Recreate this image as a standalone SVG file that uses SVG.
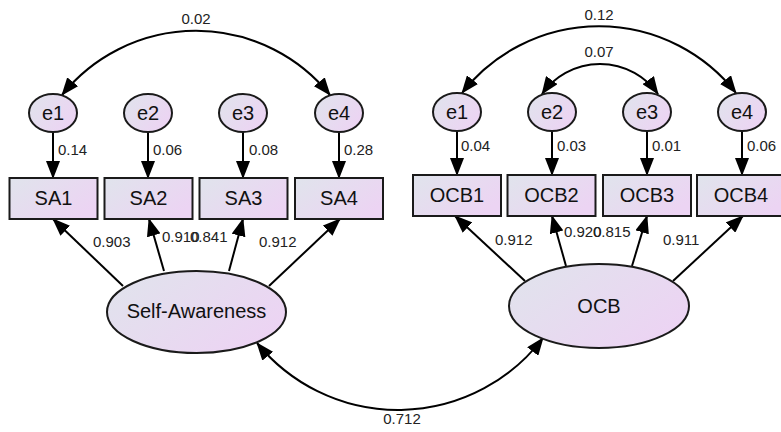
<svg xmlns="http://www.w3.org/2000/svg" width="781" height="432" viewBox="0 0 781 432">
  <defs>
    <linearGradient id="fillGrad" x1="0" y1="0" x2="1" y2="0.6">
      <stop offset="0" stop-color="#e0e4ec"/>
      <stop offset="1" stop-color="#ecd4f3"/>
    </linearGradient>
    <marker id="arrow" viewBox="0 0 18 14" markerWidth="18" markerHeight="14" refX="17" refY="7" orient="auto-start-reverse" markerUnits="userSpaceOnUse">
      <path d="M0,0 L18,7 L0,14 z" fill="#000"/>
    </marker>
    <style>
      .node { fill: url(#fillGrad); stroke: #1a1a1a; stroke-width: 2; }
      .lbl { font-family: "Liberation Sans", Arial, sans-serif; font-size: 20px; fill: #111; text-anchor: middle; }
      .num { font-family: "Liberation Sans", Arial, sans-serif; font-size: 15px; fill: #222; }
      .mid { text-anchor: middle; }
      .edge { fill: none; stroke: #000; stroke-width: 2; marker-end: url(#arrow); }
      .cov { fill: none; stroke: #000; stroke-width: 2; marker-start: url(#arrow); marker-end: url(#arrow); }
    </style>
  </defs>

  <rect width="781" height="432" fill="#fff"/>

  <!-- connectors -->
  <g id="connectors">
    <!-- error terms to indicators, Self-Awareness side -->
    <line class="edge" x1="53" y1="132" x2="53" y2="178"/>
    <line class="edge" x1="148" y1="132" x2="148" y2="178"/>
    <line class="edge" x1="243" y1="132" x2="243" y2="178"/>
    <line class="edge" x1="339" y1="132" x2="339" y2="178"/>
    <!-- error terms to indicators, OCB side -->
    <line class="edge" x1="457" y1="131" x2="457" y2="175"/>
    <line class="edge" x1="552" y1="131" x2="552" y2="175"/>
    <line class="edge" x1="647" y1="131" x2="647" y2="175"/>
    <line class="edge" x1="742" y1="131" x2="742" y2="175"/>
    <!-- loadings -->
    <line class="edge" x1="123" y1="286" x2="53" y2="219"/>
    <line class="edge" x1="164" y1="271" x2="149" y2="219"/>
    <line class="edge" x1="229" y1="271" x2="243" y2="219"/>
    <line class="edge" x1="269" y1="286" x2="340" y2="219"/>
    <line class="edge" x1="525" y1="281" x2="455" y2="216"/>
    <line class="edge" x1="566" y1="266" x2="552" y2="216"/>
    <line class="edge" x1="632" y1="266" x2="647" y2="216"/>
    <line class="edge" x1="673" y1="281" x2="743" y2="216"/>
    <!-- covariances -->
    <path class="cov" d="M62,95 A172,172 0 0 1 330,95"/>
    <path class="cov" d="M462,93 A174,174 0 0 1 736,93"/>
    <path class="cov" d="M542,94 A71,71 0 0 1 658,94"/>
    <path class="cov" d="M257,343 A182,182 0 0 0 543,338"/>
  </g>

  <!-- path labels -->
  <g id="estimates">
    <text class="num mid" x="196" y="24">0.02</text>
    <text class="num mid" x="599" y="20">0.12</text>
    <text class="num mid" x="599" y="57">0.07</text>
    <text class="num mid" x="402" y="424">0.712</text>
    <text class="num" x="58" y="155">0.14</text>
    <text class="num" x="153" y="155">0.06</text>
    <text class="num" x="249" y="155">0.08</text>
    <text class="num" x="344" y="155">0.28</text>
    <text class="num" x="461" y="151">0.04</text>
    <text class="num" x="557" y="151">0.03</text>
    <text class="num" x="652" y="151">0.01</text>
    <text class="num" x="747" y="151">0.06</text>
    <text class="num" x="93" y="247">0.903</text>
    <text class="num" x="162" y="242">0.910</text>
    <text class="num" x="190" y="242">0.841</text>
    <text class="num" x="259" y="247">0.912</text>
    <text class="num" x="495" y="245">0.912</text>
    <text class="num" x="564" y="237">0.920</text>
    <text class="num" x="593" y="237">0.815</text>
    <text class="num" x="663" y="245">0.911</text>
  </g>

  <!-- Self-Awareness measurement model -->
  <g id="sa-e1"><ellipse class="node" cx="53" cy="113" rx="24" ry="19"/><text class="lbl" x="53" y="120">e1</text></g>
  <g id="sa-e2"><ellipse class="node" cx="148" cy="113" rx="24" ry="19"/><text class="lbl" x="148" y="120">e2</text></g>
  <g id="sa-e3"><ellipse class="node" cx="243" cy="113" rx="24" ry="19"/><text class="lbl" x="243" y="120">e3</text></g>
  <g id="sa-e4"><ellipse class="node" cx="339" cy="113" rx="24" ry="19"/><text class="lbl" x="339" y="120">e4</text></g>
  <g id="SA1"><rect class="node" x="9.5" y="178" width="88" height="41"/><text class="lbl" x="53.5" y="205">SA1</text></g>
  <g id="SA2"><rect class="node" x="104.5" y="178" width="88" height="41"/><text class="lbl" x="148.5" y="205">SA2</text></g>
  <g id="SA3"><rect class="node" x="199.5" y="178" width="88" height="41"/><text class="lbl" x="243.5" y="205">SA3</text></g>
  <g id="SA4"><rect class="node" x="295" y="178" width="88" height="41"/><text class="lbl" x="339" y="205">SA4</text></g>
  <g id="SelfAwareness"><ellipse class="node" cx="196.5" cy="312" rx="89.5" ry="41"/><text class="lbl" x="196.5" y="318">Self-Awareness</text></g>

  <!-- OCB measurement model -->
  <g id="ocb-e1"><ellipse class="node" cx="457" cy="112" rx="24" ry="19"/><text class="lbl" x="457" y="119">e1</text></g>
  <g id="ocb-e2"><ellipse class="node" cx="552" cy="112" rx="24" ry="19"/><text class="lbl" x="552" y="119">e2</text></g>
  <g id="ocb-e3"><ellipse class="node" cx="647" cy="112" rx="24" ry="19"/><text class="lbl" x="647" y="119">e3</text></g>
  <g id="ocb-e4"><ellipse class="node" cx="742" cy="112" rx="24" ry="19"/><text class="lbl" x="742" y="119">e4</text></g>
  <g id="OCB1"><rect class="node" x="413" y="175" width="88" height="41"/><text class="lbl" x="457" y="202">OCB1</text></g>
  <g id="OCB2"><rect class="node" x="507.5" y="175" width="88" height="41"/><text class="lbl" x="551.5" y="202">OCB2</text></g>
  <g id="OCB3"><rect class="node" x="603" y="175" width="88" height="41"/><text class="lbl" x="647" y="202">OCB3</text></g>
  <g id="OCB4"><rect class="node" x="697" y="175" width="88" height="41"/><text class="lbl" x="741" y="202">OCB4</text></g>
  <g id="OCB"><ellipse class="node" cx="599" cy="306" rx="90" ry="42"/><text class="lbl" x="599" y="313">OCB</text></g>
</svg>
